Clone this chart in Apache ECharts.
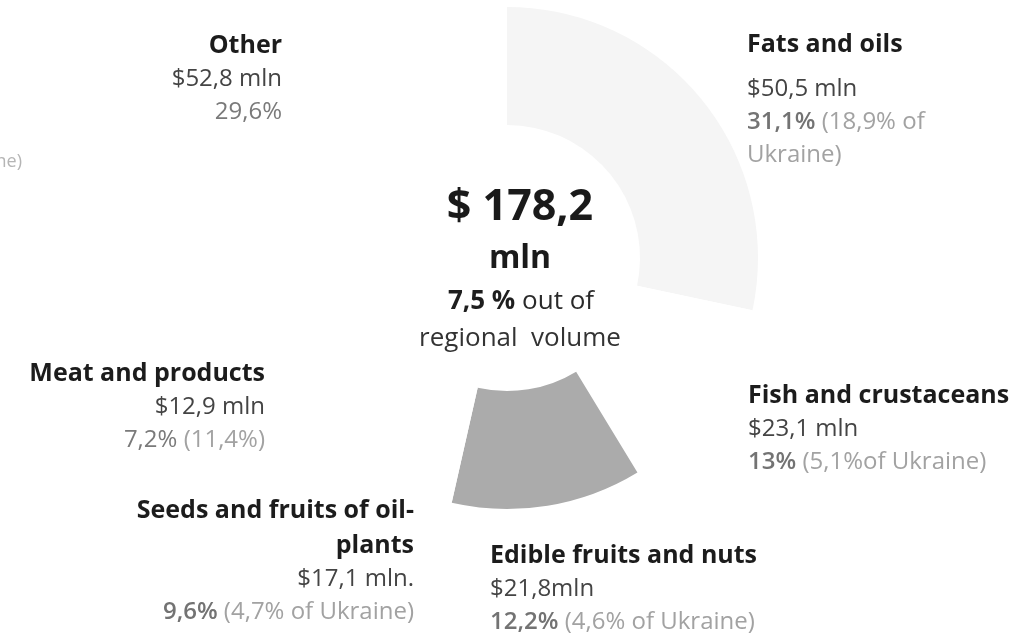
<!DOCTYPE html>
<html>
<head>
<meta charset="utf-8">
<title>Food export structure</title>
<script src="https://cdn.jsdelivr.net/npm/echarts@6/dist/echarts.min.js"></script>
<style>
  html, body { margin: 0; padding: 0; background: #fff; }
  #chart { width: 1030px; height: 634px; }
</style>
</head>
<body>
<div id="chart"></div>
<script>
// categories, clockwise from 12 o'clock
const categories = ['Fats and oils', 'Fish and crustaceans', 'Edible fruits and nuts',
  'Seeds and fruits of oil-\nplants', 'Meat and products', 'Other'];
// value, $ mln
const values = [50.5, 23.1, 21.8, 17.1, 12.9, 52.8];
const valueLabels = ['$50,5 mln', '$23,1 mln', '$21,8mln', '$17,1 mln.', '$12,9 mln', '$52,8 mln'];
const shareLabels = ['31,1%', '13%', '12,2%', '9,6%', '7,2%', '29,6%'];
const ukraineLabels = [' (18,9% of\nUkraine)', ' (5,1%of Ukraine)', ' (4,6% of Ukraine)',
  ' (4,7% of Ukraine)', ' (11,4%)', ''];
const regionalShare = '7,5 %';

// washed-out scan: most slices faded to white
const sliceColors = ['#f5f5f5', '#ffffff', '#ababab', '#ffffff', '#ffffff', '#ffffff'];
// label anchor: x, top y, align, bold share?
const labelSpots = [
  [747, 16, 'left', true],
  [748, 378, 'left', true],
  [490, 538, 'left', true],
  [414, 493, 'right', true],
  [265, 356, 'right', false],
  [282, 28, 'right', false]
];

const total = values.reduce((a, b) => a + b, 0);
const FONT = '"Open Sans", sans-serif';

// wrap every line of a text piece in one rich style
function rich(style, text) {
  return text.split('\n').map(t => '{' + style + '|' + t + '}').join('\n');
}

const chart = echarts.init(document.getElementById('chart'));

const option = {
  backgroundColor: '#ffffff',
  animation: false,
  graphic: [
    { type: 'text', z: 100, style: { text: '$ ' + total.toFixed(1).replace('.', ','), x: 520, y: 208, align: 'center', verticalAlign: 'middle', font: 'bold 43px ' + FONT, fill: '#1a1a1a' } },
    { type: 'text', z: 100, style: { text: 'mln', x: 520, y: 259, align: 'center', verticalAlign: 'middle', font: 'bold 32px ' + FONT, fill: '#1a1a1a' } },
    { type: 'text', z: 100, style: { text: '{b|' + regionalShare + '}{n| out of}', x: 521, y: 302, align: 'center', verticalAlign: 'middle',
      rich: { b: { font: 'bold 26px ' + FONT, fill: '#1e1e1e' }, n: { font: '26px ' + FONT, fill: '#2a2a2a' } } } },
    { type: 'text', z: 100, style: { text: 'regional  volume', x: 520, y: 339, align: 'center', verticalAlign: 'middle', font: '26px ' + FONT, fill: '#333' } },
    // clipped leftover of a label cut by the scan edge
    { type: 'text', z: 100, style: { text: 'of Ukraine)', x: 22, y: 162, align: 'right', verticalAlign: 'middle', font: '18px ' + FONT, fill: '#b5b5b5' } }
  ],
  series: [
    {
      type: 'pie',
      center: [507, 258],
      radius: [133, 251],
      startAngle: 90,
      clockwise: true,
      silent: true,
      itemStyle: { borderWidth: 0 },
      data: categories.map((c, i) => ({
        name: c,
        value: values[i],
        itemStyle: { color: sliceColors[i] }
      })),
      labelLine: { show: false },
      label: {
        show: true,
        overflow: 'none',
        formatter: function (p) {
          const i = p.dataIndex;
          const nameStyle = i === 0 ? 'n0' : 'n';
          const shareStyle = labelSpots[i][3] ? 's' : 'sn';
          return rich(nameStyle, categories[i]) + '\n' +
            rich('v', valueLabels[i]) + '\n' +
            '{' + shareStyle + '|' + shareLabels[i] + '}' + rich('u', ukraineLabels[i]);
        },
        rich: {
          n: { fontFamily: FONT, fontSize: 25, fontWeight: 'bold', color: '#1c1c1c', lineHeight: 35 },
          n0: { fontFamily: FONT, fontSize: 25, fontWeight: 'bold', color: '#1c1c1c', lineHeight: 57 },
          v: { fontFamily: FONT, fontSize: 24, color: '#444', lineHeight: 33 },
          s: { fontFamily: FONT, fontSize: 24, fontWeight: 600, color: '#737373', lineHeight: 33 },
          sn: { fontFamily: FONT, fontSize: 24, color: '#7a7a7a', lineHeight: 33 },
          u: { fontFamily: FONT, fontSize: 24, color: '#a2a2a2', lineHeight: 33 }
        }
      },
      labelLayout: function (params) {
        const spot = labelSpots[params.dataIndex];
        return { x: spot[0], y: spot[1], align: spot[2], verticalAlign: 'top' };
      }
    }
  ]
};

chart.setOption(option);
window.addEventListener('resize', function () {
  chart.resize();
});
</script>
</body>
</html>
